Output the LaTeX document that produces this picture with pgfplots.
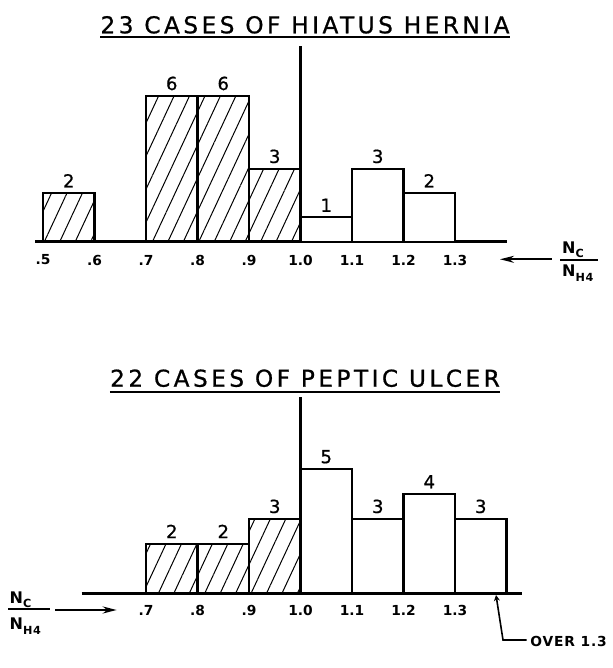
\documentclass[border=0pt]{standalone}
\usepackage{fontspec}
\setmainfont{DejaVu Sans}
\newfontfamily\titlefont[LetterSpace=15,FakeBold=0.8]{DejaVu Sans}
\newfontfamily\numfont[FakeBold=0.8]{DejaVu Sans}
\newfontfamily\lblfont[LetterSpace=6]{DejaVu Sans}
\newfontfamily\tickfont{DejaVu Sans}
\usepackage{pgfplots}
\pgfplotsset{compat=1.18}
\usetikzlibrary{patterns.meta,arrows.meta}
\newcommand{\Nsub}[1]{N\raisebox{-2.2pt}{\fontsize{5.6}{6}\selectfont #1}}
\begin{document}
\begin{tikzpicture}
\useasboundingbox (0,0) rectangle (306.5pt,334pt);
\pgfplotsset{
 histo/.style={
  x=257.5pt, enlargelimits=false, clip=false,
  axis y line=none, axis x line=bottom,
  x axis line style={-, line width=1.5pt},
  ymin=0,
  major tick length=0pt,
  xticklabel style={font=\tickfont\bfseries\fontsize{6.9}{7}\selectfont, anchor=center, inner sep=0pt},
 },
 hatched/.style={ybar interval, draw=black, line width=1.1pt, pattern={Lines[angle=65,distance=7pt,line width=0.5pt]}},
 open/.style={ybar interval, draw=black, line width=1.1pt, fill=white},
 vals/.style={draw=none, mark=none, nodes near coords, point meta=explicit symbolic,
   nodes near coords style={font=\numfont\fontsize{9}{10}\selectfont, anchor=south, inner sep=0pt, yshift=2.6pt}},
}
% ---------- top: hiatus hernia
\begin{axis}[histo, y=12.15pt, xmin=0.4845, xmax=1.4004, ymax=8.1,
  at={(17.5pt,213.15pt)}, anchor=south west,
  xtick={0.5,0.6,0.7,0.8,0.9,1.0,1.1,1.2,1.3},
  xticklabels={.5,.6,.7,.8,.9,1.0,1.1,1.2,1.3},
  xticklabel style={yshift=-9.15pt}]
\addplot[hatched] coordinates {(0.5,2)(0.6,2)};
\addplot[hatched] coordinates {(0.7,6)(0.8,6)(0.9,3)(1.0,3)};
\addplot[open] coordinates {(1.0,1)(1.1,3)(1.2,2)(1.3,2)};
\addplot[line width=1.4pt] coordinates {(1.0,0)(1.0,8.05)};
\addplot[vals] coordinates {(0.55,2)[2] (0.75,6)[6] (0.85,6)[6] (0.95,3)[3] (1.05,1)[1] (1.15,3)[3] (1.25,2)[2]};
\end{axis}
% ---------- bottom: peptic ulcer
\begin{axis}[histo, y=12.45pt, xmin=0.5751, xmax=1.4295, ymax=7.9,
  at={(40.85pt,37.25pt)}, anchor=south west,
  xtick={0.7,0.8,0.9,1.0,1.1,1.2,1.3},
  xticklabels={.7,.8,.9,1.0,1.1,1.2,1.3},
  xticklabel style={yshift=-8.5pt}]
\addplot[hatched] coordinates {(0.7,2)(0.8,2)(0.9,3)(1.0,3)};
\addplot[open] coordinates {(1.0,5)(1.1,3)(1.2,4)(1.3,3)(1.4,3)};
\addplot[line width=1.4pt] coordinates {(1.0,0)(1.0,7.88)};
\addplot[vals] coordinates {(0.75,2)[2] (0.85,2)[2] (0.95,3)[3] (1.05,5)[5] (1.15,3)[3] (1.25,4)[4] (1.35,3)[3]};
\end{axis}
% ---------- titles
\node[font=\titlefont\fontsize{11.6}{13}\selectfont, anchor=base, inner sep=0pt] (t1) at (152.5pt,317.35pt) {23 CASES OF HIATUS HERNIA};
\draw[line width=1pt] ([yshift=-1.8pt]t1.base west) -- ([yshift=-1.8pt]t1.base east);
\node[font=\titlefont\fontsize{11.6}{13}\selectfont, anchor=base, inner sep=0pt] (t2) at (152.5pt,140.65pt) {22 CASES OF PEPTIC ULCER};
\draw[line width=1pt] ([yshift=-2.5pt]t2.base west) -- ([yshift=-2.5pt]t2.base east);
% ---------- right fraction and arrow (top)
\draw[line width=1pt, -{Stealth[length=7pt,width=3.5pt]}] (275.85pt,204.35pt) -- (250pt,204.35pt);
\node[anchor=base west, inner sep=0pt, font=\lblfont\bfseries\fontsize{8}{9}\selectfont] at (280.85pt,207.35pt) {\Nsub{C}};
\draw[line width=0.8pt] (280pt,204pt) -- (298.85pt,204pt);
\node[anchor=base west, inner sep=0pt, font=\lblfont\bfseries\fontsize{8}{9}\selectfont] at (280.85pt,195.65pt) {\Nsub{H4}};
% ---------- left fraction and arrow (bottom)
\node[anchor=base west, inner sep=0pt, font=\lblfont\bfseries\fontsize{8}{9}\selectfont] at (4.65pt,32.35pt) {\Nsub{C}};
\draw[line width=0.8pt] (4.15pt,29.5pt) -- (25pt,29.5pt);
\node[anchor=base west, inner sep=0pt, font=\lblfont\bfseries\fontsize{8}{9}\selectfont] at (4.65pt,19pt) {\Nsub{H4}};
\draw[line width=1pt, -{Stealth[length=7pt,width=3.5pt]}] (27.5pt,29pt) -- (58.35pt,29pt);
% ---------- over 1.3 note
\draw[line width=0.8pt, {Stealth[length=3pt,width=3pt]}-] (248pt,36.5pt) -- (251.5pt,14pt) -- (263.35pt,14pt);
\node[anchor=west, inner sep=0pt, font=\lblfont\bfseries\fontsize{6.9}{8}\selectfont] at (265pt,13.15pt) {OVER 1.3};
\end{tikzpicture}
\end{document}
